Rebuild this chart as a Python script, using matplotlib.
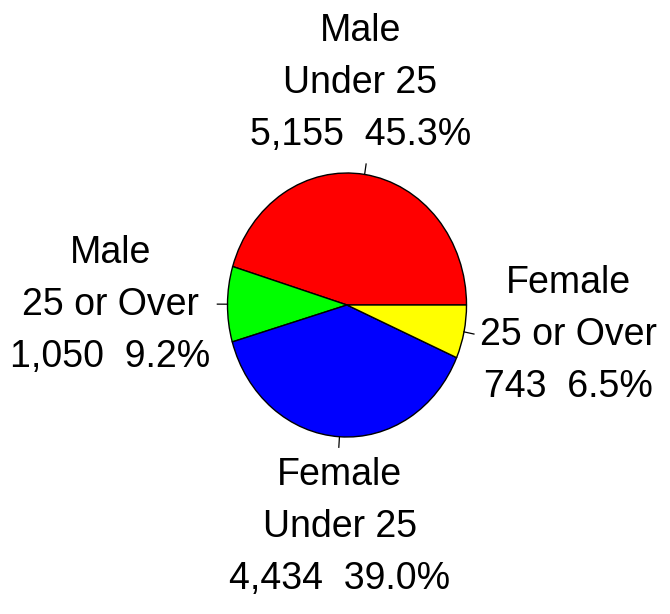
import matplotlib
matplotlib.use("Agg")
import matplotlib.pyplot as plt
import numpy as np

categories = ["Male\nUnder 25", "Male\n25 or Over", "Female\nUnder 25", "Female\n25 or Over"]
counts = [5155, 1050, 4434, 743]
percents = [45.3, 9.2, 39.0, 6.5]
colors = ["#FF0000", "#00FF00", "#0000FF", "#FFFF00"]

# label block centres (pie units)
label_pos = [(0.11, 1.68), (-1.98, 0.0), (-0.06, -1.68), (1.85, -0.225)]

W, H = 670, 614
fig = plt.figure(figsize=(W / 100, H / 100), dpi=100)
fig.patch.set_facecolor("white")
# pie ellipse: centre (347,305) px, rx 119.5, ry 132
cx, cy, rx, ry = 347, 305, 119.5, 132
ax = fig.add_axes([(cx - rx) / W, (H - cy - ry) / H, 2 * rx / W, 2 * ry / H])

wedges, _ = ax.pie(counts, colors=colors, startangle=0, counterclock=True,
                   radius=1.0, center=(0, 0),
                   wedgeprops=dict(edgecolor="black", linewidth=1.0, antialiased=True))
ax.set_aspect("auto")
ax.set_xlim(-1, 1)
ax.set_ylim(-1, 1)
ax.axis("off")

for w, cat, n, p, (lx, ly) in zip(wedges, categories, counts, percents, label_pos):
    th = np.deg2rad((w.theta1 + w.theta2) / 2)
    c, s = np.cos(th), np.sin(th)
    ax.plot([c, 1.085 * c], [s, 1.08 * s], color="black", lw=0.9, clip_on=False)
    txt = f"{cat}\n{n:,}  {p:.1f}%"
    ax.text(lx, ly, txt, ha="center", va="center", multialignment="center",
            fontsize=27, family="Liberation Sans", linespacing=1.57,
            color="black", clip_on=False)

fig.savefig("out.png", dpi=100, facecolor="white")
